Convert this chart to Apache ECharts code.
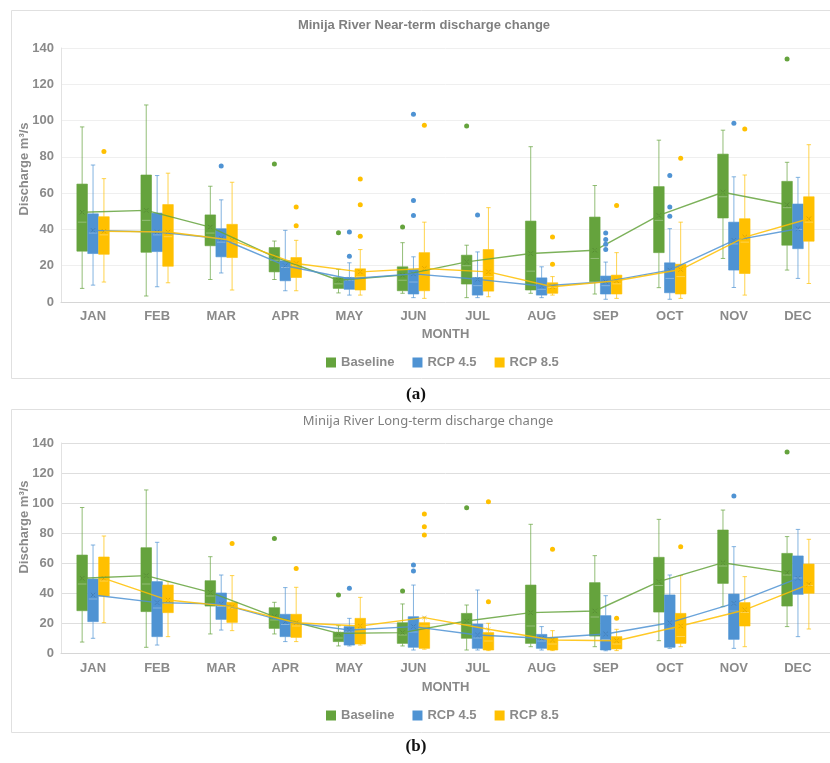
<!DOCTYPE html>
<html><head><meta charset="utf-8">
<script src="https://cdn.jsdelivr.net/npm/echarts@6/dist/echarts.min.js"></script>
<style>html,body{margin:0;padding:0;background:#fff}#c{width:830px;height:763px}</style>
</head><body><div id="c"></div>
<script>
// ---------- DATA ----------
const months = ['JAN','FEB','MAR','APR','MAY','JUN','JUL','AUG','SEP','OCT','NOV','DEC'];
const seriesNames = ['Baseline','RCP 4.5','RCP 8.5'];
const yTicks = [0, 20, 40, 60, 80, 100, 120, 140];

// box = [min whisker, Q1, median, Q3, max whisker]
// (a) Near-term
const nearBaselineBox = [[7.5,28,44,65,96.5],[3.3,27.4,45,70,108.6],[12.4,31,38,48,63.8],[12.4,16.6,23,30,33.6],[5,7.5,10,13.5,18],[4.8,6.2,12,19.4,32.7],[2.4,9.9,20,25.8,31.3],[4.8,6.6,17,44.6,85.6],[4.4,11.2,24,46.8,64.2],[7.9,27.2,45,63.6,89.2],[24,46.3,58,81.5,94.7],[17.6,31.3,52,66.5,77]];
const nearBaselineMean = [49.5,50.5,41.3,24.9,12,14.8,22.1,26.7,28.5,47.7,60.5,53.6];
const nearBaselineOut = [[],[],[],[76],[38.2],[41.3],[97],[],[],[],[],[134]];

const nearRcp45Box = [[9.3,26.7,38,48.6,75.5],[8.4,27.8,37,49,69.7],[16,24.9,33,40.4,56.3],[6.2,11.7,19,22.7,39.5],[3.8,7,12,13.5,21.6],[2.4,4.4,11,18,24.9],[2.4,3.8,9,13.5,27.6],[2.4,3.8,7,13.3,19.4],[1.5,4.4,9,14.3,22],[1.5,5.1,13,21.6,40.4],[8,17.6,32,44,69],[13,29.4,40,54,68.7]];
const nearRcp45Mean = [39.5,38.6,35,20,12.8,15.5,12.5,8.8,11.2,17.6,34,40.4];
const nearRcp45Out = [[],[],[75],[],[38.6,25.2],[103.5,56,47.7],[48],[],[38,34.4,31.8,28.9],[69.7,52.3,47.3],[98.5],[]];

const nearRcp85Box = [[11,26.3,37,47,68],[10.6,19.7,36,53.7,71],[6.6,24.5,33,42.8,66],[6.2,13.5,20,24.5,34],[3.8,6.6,14,18.3,28.9],[2,6.2,15,27.2,44],[2.9,6,14,28.9,52],[3.8,4.8,8,10.6,14],[2,4.4,10,14.8,27.2],[2,4.4,14,20.8,44],[3.8,15.7,33,45.9,70],[10.2,33.5,44,58,86.7]];
const nearRcp85Mean = [39,38.6,34,21.2,16.6,18.5,16.6,8.4,11.7,17.9,35.8,45.9];
const nearRcp85Out = [[83],[],[],[52.3,42],[67.8,53.6,36.2],[97.4],[],[35.8,20.8],[53.2],[79.3],[95.4],[]];

// (b) Long-term
const longBaselineBox = [[7.3,28.2,46,65.3,97],[3.8,27.6,46,70.2,108.7],[12.7,31.3,38,48.2,64.2],[12.7,16.4,22,30.2,33.8],[4.7,7.6,10,13.8,18.2],[4.7,6.4,12,20.2,32.7],[2,9.8,19,26.4,32],[4.2,6.4,18,45.3,85.8],[4.2,11.3,24,46.9,64.9],[8.2,27.3,45,63.8,89.1],[30.9,46.4,58,82,95.3],[17.6,31.3,52,66.4,77.6]];
const longBaselineMean = [49.8,51.6,40.4,24.2,13.1,13.6,21.3,26.9,28,47.6,60.2,53.6];
const longBaselineOut = [[],[],[],[76.4],[38.7],[41.3],[96.9],[],[],[],[],[134]];

const longRcp45Box = [[9.8,20.9,36,49.3,72],[5.3,10.9,30,47.6,73.8],[15.3,22.4,31,40,52],[7.6,10.9,19,25.8,43.6],[4.7,5.3,14,17.6,23.1],[2,3.8,14,24.2,45.3],[2,3.1,10,19.3,42],[2,3.1,8,12.4,17.6],[1.5,2,9,24.9,38.2],[3.1,3.8,16,38.7,52],[3.1,9.1,28,39.3,70.9],[10.9,39.1,50,64.7,82.4]];
const longRcp45Mean = [38.7,33.6,32.7,20.9,15.3,17.6,12,9.8,12.7,20.2,33.1,49.8];
const longRcp45Out = [[],[],[],[],[43.1],[58.7,54.7],[],[],[],[],[104.7],[]];

const longRcp85Box = [[20.2,38,48,64,78],[10.9,26.9,33,45.3,47.6],[14.9,20.4,30,33.8,51.6],[7.6,10.4,18,25.8,43.8],[5.3,6,16,23.1,37.1],[2.5,3.1,18,20.2,24],[1.6,2,8,13.6,19.8],[1.6,2,6,10.4,14.9],[1.6,2.7,6,10.9,15.8],[4.2,6.4,11,26.4,51.6],[4.2,18,27,33.6,50.9],[16,39.8,45,59.3,75.8]];
const longRcp85Mean = [49.8,35.3,30.9,20.2,18,23.6,15.8,8.7,8.2,18,28.7,45.8];
const longRcp85Out = [[],[],[73],[56.4],[],[92.7,84.2,78.7],[100.9,34.2],[69.1],[23.1],[70.9],[],[]];

// ---------- STYLE ----------
const COLORS = ['#65a33d', '#4f93d3', '#ffc000'];
const OFFSETS = [-0.17, 0, 0.17];
const BOX_W = 0.165;
const GRAY = '#8a8a8a';
const FONT = 'Liberation Sans, Arial, sans-serif';

function boxData(boxes, means, off) { return boxes.map((b, i) => [i + off].concat(b, [means[i]])); }
function outData(outs, off) { const r = []; outs.forEach((arr, i) => arr.forEach(v => r.push([i + off, v]))); return r; }
function meanData(means, off) { return means.map((m, i) => [i + off, m]); }

function renderBox(params, api) {
  const x = api.value(0);
  const w = api.size([BOX_W, 0])[0];
  const h = w / 2;
  const c = api.visual('color');
  const p = k => api.coord([x, api.value(k)]);
  const pMin = p(1), pQ1 = p(2), pMed = p(3), pQ3 = p(4), pMax = p(5), pMean = p(6);
  const cx = pMin[0];
  const cap = 2.2, m = 2.2;
  const ws = { stroke: c, lineWidth: 1, opacity: 0.7 };
  return { type: 'group', children: [
    { type: 'line', shape: { x1: cx, y1: pMax[1], x2: cx, y2: pQ3[1] }, style: ws },
    { type: 'line', shape: { x1: cx, y1: pQ1[1], x2: cx, y2: pMin[1] }, style: ws },
    { type: 'line', shape: { x1: cx - cap, y1: pMax[1], x2: cx + cap, y2: pMax[1] }, style: ws },
    { type: 'line', shape: { x1: cx - cap, y1: pMin[1], x2: cx + cap, y2: pMin[1] }, style: ws },
    { type: 'rect', shape: { x: cx - h, y: pQ3[1], width: w, height: pQ1[1] - pQ3[1] }, style: { fill: c, stroke: c, lineWidth: 0.6 } },
    { type: 'line', shape: { x1: cx - h + 1, y1: pMed[1], x2: cx + h - 1, y2: pMed[1] }, style: { stroke: 'rgba(255,255,255,0.3)', lineWidth: 1 } },
    { type: 'line', shape: { x1: cx - m, y1: pMean[1] - m, x2: cx + m, y2: pMean[1] + m }, style: { stroke: 'rgba(0,0,0,0.15)', lineWidth: 1 } },
    { type: 'line', shape: { x1: cx - m, y1: pMean[1] + m, x2: cx + m, y2: pMean[1] - m }, style: { stroke: 'rgba(0,0,0,0.15)', lineWidth: 1 } }
  ]};
}

const panels = [
  { boxes: [nearBaselineBox, nearRcp45Box, nearRcp85Box], means: [nearBaselineMean, nearRcp45Mean, nearRcp85Mean], outs: [nearBaselineOut, nearRcp45Out, nearRcp85Out] },
  { boxes: [longBaselineBox, longRcp45Box, longRcp85Box], means: [longBaselineMean, longRcp45Mean, longRcp85Mean], outs: [longBaselineOut, longRcp45Out, longRcp85Out] }
];

const series = [];
panels.forEach((pn, g) => {
  const xi = g * 2 + 1, yi = g;
  for (let s = 0; s < 3; s++) {
    series.push({ type: 'custom', name: seriesNames[s], xAxisIndex: xi, yAxisIndex: yi, z: 2,
      itemStyle: { color: COLORS[s] }, renderItem: renderBox,
      encode: { x: 0, y: [1, 2, 3, 4, 5, 6] }, data: boxData(pn.boxes[s], pn.means[s], OFFSETS[s]) });
  }
  for (let s = 0; s < 3; s++) {
    series.push({ type: 'line', name: seriesNames[s], xAxisIndex: xi, yAxisIndex: yi, z: 3,
      showSymbol: false, symbol: 'none', itemStyle: { color: COLORS[s] },
      lineStyle: { color: COLORS[s], width: 1.4, opacity: 0.85 }, data: meanData(pn.means[s], OFFSETS[s]) });
  }
  for (let s = 0; s < 3; s++) {
    series.push({ type: 'scatter', name: seriesNames[s], xAxisIndex: xi, yAxisIndex: yi, z: 4,
      symbolSize: 5, itemStyle: { color: COLORS[s], opacity: 1 }, data: outData(pn.outs[s], OFFSETS[s]) });
  }
});

const grids = [
  { left: 61, top: 48, width: 774, height: 254 },
  { left: 61, top: 443, width: 774, height: 210 }
];
const xAxes = [], yAxes = [];
[0, 1].forEach(g => {
  xAxes.push({ type: 'category', gridIndex: g, data: months, boundaryGap: true,
    axisLine: { show: true, onZero: false, lineStyle: { color: '#d6d6d6', width: 1 } }, axisTick: { show: false },
    axisLabel: { interval: 0, margin: g === 0 ? 8 : 9, color: GRAY, fontFamily: FONT, fontWeight: 'bold', fontSize: 13 },
    name: 'MONTH', nameLocation: 'middle', nameGap: g === 0 ? 26 : 28,
    nameTextStyle: { color: GRAY, fontFamily: FONT, fontWeight: 'bold', fontSize: 13 } });
  xAxes.push({ type: 'value', gridIndex: g, min: -0.5, max: 11.5, show: false });
  yAxes.push({ type: 'value', gridIndex: g, min: yTicks[0], max: yTicks[yTicks.length - 1], interval: 20,
    axisLine: { show: true, onZero: false, lineStyle: { color: '#e2e2e2' } }, axisTick: { show: false },
    axisLabel: { margin: 7, color: GRAY, fontFamily: FONT, fontWeight: 'bold', fontSize: 13 },
    splitLine: { lineStyle: { color: g === 0 ? '#efefef' : '#dedede', width: 1 } } });
});

const legendBase = { data: seriesNames, icon: 'rect', itemWidth: 10, itemHeight: 10, itemGap: 18, left: 321,
  textStyle: { color: GRAY, fontFamily: FONT, fontWeight: 'bold', fontSize: 13 }, selectedMode: false };

const option = {
  animation: false,
  backgroundColor: '#fff',
  title: [
    { text: 'Minija River Near-term discharge change', left: 424, top: 19, textAlign: 'center', padding: 0,
      textStyle: { color: '#7f7f7f', fontFamily: FONT, fontWeight: 'bold', fontSize: 13 } },
    { text: 'Minija River Long-term discharge change', left: 428, top: 415, textAlign: 'center', padding: 0,
      textStyle: { color: '#7f7f7f', fontFamily: 'Noto Sans, sans-serif', fontWeight: 'normal', fontSize: 13 } },
    { text: '{n|(}{b|a}{n|)}', left: 416, top: 386, textAlign: 'center', padding: 0,
      textStyle: { rich: { n: { fontFamily: 'Liberation Serif, serif', fontSize: 17, color: '#111' }, b: { fontFamily: 'Liberation Serif, serif', fontSize: 17, fontWeight: 'bold', color: '#111' } } } },
    { text: '{n|(}{b|b}{n|)}', left: 416, top: 738, textAlign: 'center', padding: 0,
      textStyle: { rich: { n: { fontFamily: 'Liberation Serif, serif', fontSize: 17, color: '#111' }, b: { fontFamily: 'Liberation Serif, serif', fontSize: 17, fontWeight: 'bold', color: '#111' } } } }
  ],
  legend: [ Object.assign({}, legendBase, { top: 351 }), Object.assign({}, legendBase, { top: 704 }) ],
  graphic: [
    { type: 'rect', silent: true, z: -1, shape: { x: 11.5, y: 10.5, width: 840, height: 368 }, style: { fill: 'none', stroke: '#e0e0e0', lineWidth: 1 } },
    { type: 'rect', silent: true, z: -1, shape: { x: 11.5, y: 409.5, width: 840, height: 323 }, style: { fill: 'none', stroke: '#e0e0e0', lineWidth: 1 } },
    { type: 'text', silent: true, x: 24, y: 169, rotation: Math.PI / 2,
      style: { text: 'Discharge m³/s', fill: GRAY, font: 'bold 13px ' + FONT, align: 'center', verticalAlign: 'middle', textAlign: 'center', textVerticalAlign: 'middle' } },
    { type: 'text', silent: true, x: 24, y: 527, rotation: Math.PI / 2,
      style: { text: 'Discharge m³/s', fill: GRAY, font: 'bold 13px ' + FONT, align: 'center', verticalAlign: 'middle', textAlign: 'center', textVerticalAlign: 'middle' } }
  ],
  grid: grids,
  xAxis: xAxes,
  yAxis: yAxes,
  series: series
};

const chart = echarts.init(document.getElementById('c'), null, { renderer: 'canvas' });
chart.setOption(option);
</script>
</body></html>
